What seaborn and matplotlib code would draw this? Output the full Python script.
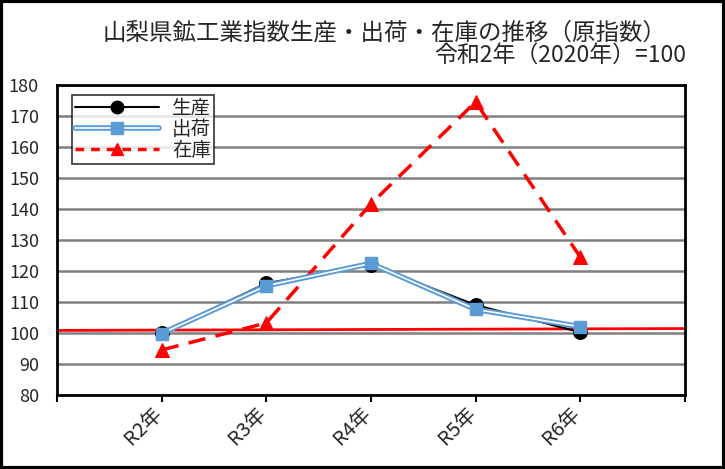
import matplotlib
matplotlib.use("Agg")
import matplotlib.pyplot as plt
import seaborn as sns
import pandas as pd
from matplotlib.lines import Line2D
from matplotlib.legend_handler import HandlerTuple

categories = ["R2年", "R3年", "R4年", "R5年", "R6年"]
production = [100.0, 116.0, 122.0, 109.0, 100.2]
shipment = [99.8, 115.2, 122.4, 107.6, 102.0]
inventory = [94.5, 103.2, 141.6, 174.5, 124.5]
ref_line = [100.8, 101.4]
yticks = list(range(80, 181, 10))

sns.set_theme(style="white")
plt.rcParams["font.family"] = ["Noto Sans CJK JP", "DejaVu Sans"]

fig = plt.figure(figsize=(7.25, 4.69), dpi=100)
ax = fig.add_axes([0.0786, 0.158, 0.866, 0.661])

x = list(range(len(categories)))
df = pd.DataFrame({"x": x, "生産": production, "出荷": shipment, "在庫": inventory})

for yv in yticks:
    ax.axhline(yv, color="#808080", lw=1.8, zorder=0)

# reference line
ax.plot([-1, 5], ref_line, color="#FF0000", lw=2, zorder=1)

sns.lineplot(data=df, x="x", y="在庫", ax=ax, color="#FF0000", lw=2.5,
             linestyle=(0, (5, 3)), marker="^", markersize=10, markeredgecolor="#FF0000",
             legend=False, zorder=2)
sns.lineplot(data=df, x="x", y="生産", ax=ax, color="black", lw=1.5,
             marker="o", markersize=10, markeredgecolor="black", legend=False, zorder=3)
sns.lineplot(data=df, x="x", y="出荷", ax=ax, color="#5B9BD5", lw=4,
             marker="s", markersize=9, markeredgecolor="#5B9BD5", legend=False, zorder=4)
ax.plot(x, shipment, color="white", lw=1.2, zorder=4.5)
ax.plot(x, shipment, linestyle="none", marker="s", markersize=9, color="#5B9BD5", zorder=5)

ax.set_xlim(-1, 5)
ax.set_ylim(80, 180)
ax.set_yticks(yticks)
ax.set_xticks(list(range(-1, 6)))
ax.set_xticklabels([""] * 7)
for i, c in enumerate(categories):
    ax.text(i - 0.1, 77.3, c, rotation=45, ha="right", va="top", fontsize=14.5,
            rotation_mode="anchor")
ax.set_xlabel("")
ax.set_ylabel("")
ax.tick_params(axis="y", labelsize=13, length=0, pad=13)
ax.tick_params(axis="x", direction="out", length=5, width=1.5, color="black", bottom=True)
for s in ax.spines.values():
    s.set_color("black")
    s.set_linewidth(2)

h = [
    Line2D([], [], color="black", lw=1.5, marker="o", markersize=9),
    (Line2D([], [], color="#5B9BD5", lw=4),
     Line2D([], [], color="white", lw=1.2),
     Line2D([], [], color="#5B9BD5", lw=0, marker="s", markersize=8)),
    Line2D([], [], color="#FF0000", lw=2.5, linestyle=(0, (2.5, 2)), marker="^", markersize=9),
]
leg = ax.legend(h, ["生産", "出荷", "在庫"], loc="upper left", bbox_to_anchor=(0.024, 0.968),
                fontsize=14, frameon=True, fancybox=False, edgecolor="black",
                borderpad=0.15, labelspacing=0.0, handlelength=4.3, handletextpad=0.7,
                borderaxespad=0, handler_map={tuple: HandlerTuple(ndivide=1, pad=0)})
leg.get_frame().set_linewidth(1.2)

fig.text(0.53, 0.93, "山梨県鉱工業指数生産・出荷・在庫の推移（原指数）", ha="center", va="center", fontsize=16.9)
fig.text(0.947, 0.883, "令和2年（2020年）=100", ha="right", va="center", fontsize=16.5)

fig.patches.append(plt.Rectangle((0.002, 0.003), 0.996, 0.994, transform=fig.transFigure,
                                 fill=False, edgecolor="black", lw=3))

fig.savefig("out.png", dpi=100)
